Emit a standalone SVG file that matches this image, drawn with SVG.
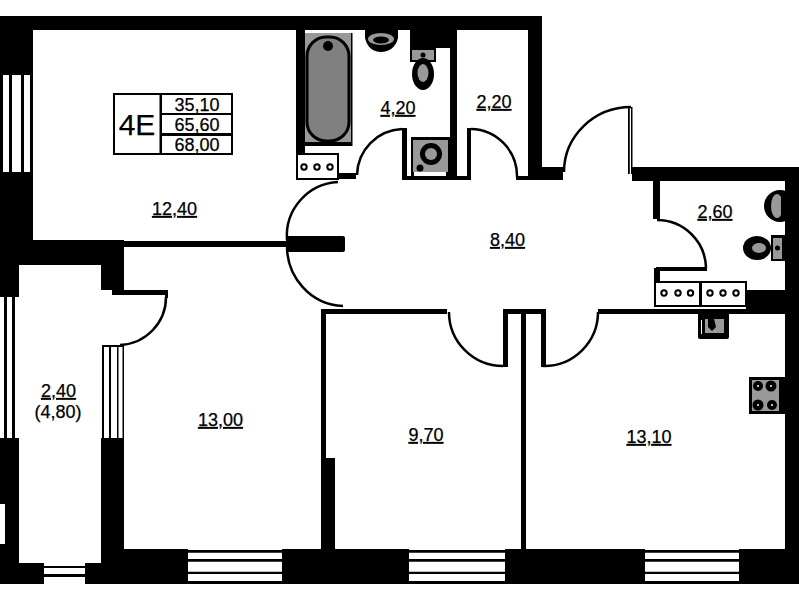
<svg xmlns="http://www.w3.org/2000/svg" width="799" height="600" viewBox="0 0 799 600">
<style>
.w{fill:#000}
.o{fill:#fff}
.a{fill:none;stroke:#000;stroke-width:2.5}
.l{font-family:"Liberation Sans",Arial,sans-serif;font-size:18px;text-anchor:middle;fill:#000;stroke:#000;stroke-width:.25}
.u{text-decoration:underline}
.g{fill:#999}
.n{fill:#fff;stroke:#000;stroke-width:2}
.c{fill:#fff;stroke:#000;stroke-width:2}
</style>
<rect width="799" height="600" fill="#fff"/>
<g id="walls">
<rect class="w" x="0" y="16" width="542" height="14"/>
<rect class="w" x="0" y="16" width="33" height="224"/>
<rect class="w" x="0" y="240" width="124" height="25"/>
<rect class="w" x="0" y="265" width="19" height="32"/>
<rect class="w" x="0" y="438" width="19" height="146"/>
<rect class="o" x="0" y="504" width="5" height="40"/>
<rect class="w" x="101" y="240" width="23" height="50"/>
<rect class="w" x="112" y="288" width="12" height="7"/>
<rect class="w" x="112" y="290" width="56" height="5"/>
<rect class="w" x="165" y="290" width="3" height="8"/>
<rect class="w" x="101" y="438" width="23" height="146"/>
<rect class="w" x="19" y="563" width="25" height="21"/>
<rect class="w" x="85" y="563" width="39" height="21"/>
<rect class="w" x="124" y="549" width="64" height="35"/>
<rect class="w" x="282" y="549" width="127" height="35"/>
<rect class="w" x="505" y="549" width="140" height="35"/>
<rect class="w" x="739" y="549" width="60" height="35"/>
<rect class="w" x="785" y="167" width="14" height="417"/>
<rect class="w" x="632" y="167" width="167" height="14"/>
<rect class="w" x="528" y="16" width="14" height="164"/>
<rect class="w" x="528" y="167" width="35" height="13"/>
<rect class="w" x="516" y="176" width="14" height="4"/>
<rect class="w" x="746" y="290" width="39" height="24"/>
<rect class="w" x="124" y="241" width="164" height="6"/>
<rect class="w" x="286" y="236" width="59" height="16" rx="2"/>
<rect class="w" x="296" y="30" width="9" height="150"/>
<rect class="w" x="338" y="173" width="18" height="6"/>
<rect class="w" x="402" y="128" width="5" height="52"/>
<rect class="w" x="402" y="176" width="69" height="4"/>
<rect class="w" x="467" y="128" width="4" height="52"/>
<rect class="w" x="410" y="30" width="47" height="18"/>
<rect class="w" x="450" y="30" width="7" height="150"/>
<rect class="w" x="411" y="137" width="46" height="3"/>
<rect class="w" x="411" y="137" width="3" height="40"/>
<rect class="w" x="446" y="137" width="11" height="40"/>
<rect class="w" x="653" y="181" width="7" height="38"/>
<rect class="w" x="656" y="267" width="51" height="4"/>
<rect class="w" x="654" y="268" width="6" height="14"/>
<rect class="w" x="321" y="309" width="126" height="5"/>
<rect class="w" x="321" y="309" width="5" height="240"/>
<rect class="w" x="321" y="458" width="14" height="91"/>
<rect class="w" x="521" y="309" width="5" height="240"/>
<rect class="w" x="503" y="309" width="43" height="5"/>
<rect class="w" x="503" y="310" width="5" height="57"/>
<rect class="w" x="541" y="310" width="5" height="57"/>
<rect class="w" x="598" y="309" width="187" height="5"/>
</g>
<g id="windows">
<rect class="o" x="3" y="75" width="6" height="97"/>
<rect class="o" x="12" y="75" width="9" height="97"/>
<rect class="o" x="24" y="75" width="6" height="97"/>
<rect class="w" x="4" y="297" width="3" height="141"/>
<rect class="w" x="12" y="297" width="3" height="141"/>
<path class="w" d="M102 345H124V347H102ZM102 346H104V438H102ZM109 346H111V438H109ZM117 346H118.500V438H117ZM122.500 346H124V438H122.500Z"/>
<rect class="w" x="44" y="566" width="41" height="2"/>
<rect class="w" x="44" y="574" width="41" height="3"/>
<g id="w1"><path class="w" d="M188 550H282V552.700H188ZM188 559H282V561.700H188ZM188 571.700H282V574H188ZM188 581H282V584H188Z"/></g>
<g id="w2"><path class="w" d="M409 550H505V552.700H409ZM409 559H505V561.700H409ZM409 571.700H505V574H409ZM409 581H505V584H409Z"/></g>
<g id="w3"><path class="w" d="M645 550H739V552.700H645ZM645 559H739V561.700H645ZM645 571.700H739V574H645ZM645 581H739V584H645Z"/></g>
</g>
<g id="doors">
<path class="a" d="M338 182A54 54 0 0 0 287 240"/>
<path class="a" d="M287 245A58 60 0 0 0 343 306"/>
<path class="a" d="M357 175A47 47 0 0 1 402 129"/>
<path class="a" d="M471 129A47 47 0 0 1 517 177"/>
<path class="a" d="M564 172A67 65 0 0 1 631 107"/>
<path class="w" d="M628 107H629.800V174H628ZM631 107H632.500V174H631Z"/>
<path class="a" d="M657 220A49 49 0 0 1 706 268"/>
<path class="a" d="M449 312A54 54 0 0 0 503 366"/>
<path class="a" d="M598 312A54 54 0 0 1 543 366"/>
<path class="a" d="M166 297A48 48 0 0 1 120 345"/>
</g>
<g id="fixtures">
<g id="bath">
<rect class="g" x="305" y="33" width="46" height="110"/>
<path class="w" d="M351 33H352.500V146H305V142H351Z"/>
<rect x="307" y="37" width="42" height="104" rx="19" fill="#808080" stroke="#000" stroke-width="3"/>
<circle class="w" cx="328" cy="46" r="5"/>
</g>
<g id="niche-1">
<rect class="n" x="297" y="154" width="41" height="25"/>
<circle class="c" cx="304" cy="167" r="2.700"/><circle class="c" cx="317" cy="167" r="2.700"/><circle class="c" cx="330" cy="167" r="2.700"/>
</g>
<g id="sink-1">
<path class="w" d="M365 30H398V38C396 47 389 52 381 52C373 52 367 47 365 38Z"/>
<ellipse class="g" cx="381" cy="39" rx="13" ry="6"/>
<ellipse class="w" cx="381" cy="40" rx="8" ry="3.500"/>
</g>
<g id="toilet-1">
<rect class="w" x="410" y="48" width="26" height="14"/>
<rect class="g" x="412" y="50" width="22" height="10"/>
<circle class="w" cx="423" cy="55" r="2.500"/>
<ellipse class="w" cx="423" cy="74" rx="11" ry="16"/>
<ellipse class="g" cx="423" cy="73" rx="5.500" ry="9"/>
</g>
<g id="shaft-1">
<rect class="g" x="413" y="140" width="35" height="32"/>
<circle class="w" cx="431" cy="154" r="11"/>
<circle class="g" cx="431" cy="154" r="6"/>
<circle class="w" cx="420" cy="168" r="3.500"/>
</g>
<g id="sink-2">
<ellipse class="w" cx="780" cy="206" rx="16" ry="16"/>
<ellipse class="g" cx="777" cy="206" rx="6" ry="12"/>
<rect class="w" x="781" y="196" width="4" height="20"/>
</g>
<g id="toilet-2">
<rect class="w" x="771" y="235" width="14" height="26"/>
<rect class="g" x="773" y="238" width="9" height="21"/>
<circle class="w" cx="777.500" cy="248" r="2.500"/>
<ellipse class="w" cx="757" cy="248" rx="14" ry="12"/>
<ellipse class="g" cx="759" cy="248" rx="7" ry="5"/>
</g>
<g id="niche-2">
<rect class="n" x="655" y="282" width="45" height="24"/>
<rect class="n" x="701" y="282" width="45" height="24"/>
<circle class="c" cx="664" cy="293" r="2.700"/><circle class="c" cx="678" cy="293" r="2.700"/><circle class="c" cx="690.500" cy="293" r="2.700"/>
<circle class="c" cx="710" cy="293" r="2.700"/><circle class="c" cx="723" cy="293" r="2.700"/><circle class="c" cx="736" cy="293" r="2.700"/>
</g>
<g id="shaft-2">
<rect class="w" x="698" y="312" width="31" height="27" rx="2"/>
<rect class="g" x="705" y="319" width="19" height="14"/>
<rect class="o" x="701" y="320" width="1" height="14"/>
<path class="w" d="M708 319H714L716 327L712 331L708 327Z"/>
</g>
<g id="stove">
<rect class="w" x="749" y="377" width="36" height="37"/>
<rect class="g" x="752" y="380" width="27" height="31"/>
<g fill="#000"><circle cx="758" cy="386" r="5"/><circle cx="771" cy="386" r="5.500"/><circle cx="758" cy="405" r="5.500"/><circle cx="772" cy="405" r="5"/></g>
<g fill="#fff"><circle cx="758" cy="386" r="1"/><circle cx="771" cy="386" r="1"/><circle cx="758" cy="405" r="1"/><circle cx="772" cy="405" r="1"/></g>
</g>
</g>
<g id="info">
<rect x="114" y="94" width="118" height="60" fill="#fff" stroke="#000" stroke-width="2"/>
<rect class="w" x="159.500" y="94" width="2.500" height="60"/>
<rect class="w" x="160" y="113" width="72" height="2"/>
<rect class="w" x="160" y="133" width="72" height="3"/>
<text class="l" x="137" y="135" style="font-size:30px">4E</text>
<text class="l" x="197" y="110.500">35,10</text>
<text class="l" x="197" y="131">65,60</text>
<text class="l" x="197" y="151">68,00</text>
</g>
<g id="labels">
<text class="l u" x="174.500" y="215">12,40</text>
<text class="l u" x="398" y="114">4,20</text>
<text class="l u" x="494" y="108">2,20</text>
<text class="l u" x="715" y="218">2,60</text>
<text class="l u" x="507.500" y="246">8,40</text>
<text class="l u" x="220.500" y="426">13,00</text>
<text class="l u" x="426" y="441">9,70</text>
<text class="l u" x="649" y="443">13,10</text>
<text class="l u" x="58.500" y="397">2,40</text>
<text class="l" x="58" y="418">(4,80)</text>
</g>
</svg>
